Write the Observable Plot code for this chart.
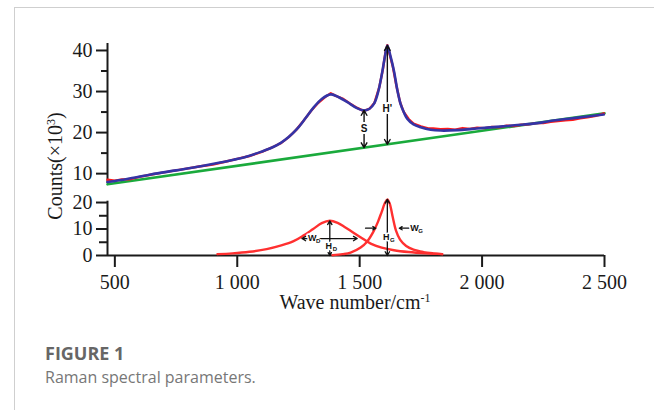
<!DOCTYPE html>
<html>
<head>
<meta charset="utf-8">
<script src="https://cdn.jsdelivr.net/npm/d3@7"></script>
<script src="https://cdn.jsdelivr.net/npm/@observablehq/plot@0.6"></script>
<style>
  body { margin: 0; background: #fff; }
  #wrap { position: relative; width: 654px; height: 410px; overflow: hidden; background: #fff; }
  .card { position: absolute; left: 14px; top: 7px; width: 660px; height: 420px; border-top: 1px solid #cfcfcf; border-left: 1px solid #cfcfcf; }
  #top, #bot { position: absolute; left: 0; }
  #top { top: 0; }
  #bot { top: 190px; }
  .ylab { position: absolute; left: 55px; top: 166px; transform: translate(-50%, -50%) rotate(-90deg); white-space: nowrap;
          font-family: "Liberation Serif", serif; font-size: 20px; color: #1a1a1a; line-height: 1; }
  .xlab { position: absolute; left: 355px; top: 292px; transform: translateX(-50%); white-space: nowrap;
          font-family: "Liberation Serif", serif; font-size: 20px; color: #1a1a1a; line-height: 1; }
  sup { font-size: 0.6em; vertical-align: 0.55em; line-height: 0; }
  .fig { position: absolute; left: 45px; top: 344px; font-family: "Open Sans", sans-serif; font-weight: 700; font-size: 18px; line-height: 18px; color: #666; }
  .cap { position: absolute; left: 45px; top: 369px; font-family: "Open Sans", sans-serif; font-size: 16px; line-height: 16px; color: #777; }
</style>
</head>
<body>
<div id="wrap">
  <div class="card"></div>
  <div id="top"></div>
  <div id="bot"></div>
  <div class="ylab">Counts(×10<sup>3</sup>)</div>
  <div class="xlab">Wave number/cm<sup>-1</sup></div>
  <div class="fig">FIGURE 1</div>
  <div class="cap">Raman spectral parameters.</div>
</div>
<script>
// ---------- data ----------
const xTicks = [500, 1000, 1500, 2000, 2500];
const xTickLabels = ["500", "1 000", "1 500", "2 000", "2 500"];
const upperYTicks = [10, 20, 30, 40];
const upperYMinor = [15, 25, 35];
const lowerYTicks = [0, 10, 20];
const lowerYMinor = [5, 15];

// raw spectrum (red)
const rawSpectrum = [
  [470,8.5],[500,8.3],[530,8.6],[560,8.6],[600,9.2],[650,9.8],[700,10.3],[750,10.8],[800,11.3],[850,11.8],
  [900,12.2],[950,12.9],[1000,13.6],[1050,14.3],[1100,15.3],[1150,16.6],[1180,17.5],[1210,18.9],[1240,20.6],
  [1270,22.8],[1300,25.2],[1330,27.2],[1360,28.7],[1382,29.6],[1400,29.0],[1430,28.3],[1460,27.1],[1490,26.0],
  [1516,25.3],[1540,25.8],[1560,27.2],[1580,31.0],[1595,35.5],[1605,39.4],[1613,41.3],[1622,39.2],[1635,36.2],
  [1650,31.4],[1665,27.4],[1680,25.0],[1700,23.3],[1720,22.2],[1750,21.5],[1780,21.0],[1800,21.0],[1830,20.8],
  [1860,20.9],[1890,20.7],[1920,21.1],[1950,20.9],[1980,21.2],[2010,21.1],[2040,21.4],[2070,21.3],[2100,21.7],
  [2130,21.6],[2160,21.9],[2190,22.0],[2220,22.3],[2250,22.3],[2280,22.6],[2310,22.8],[2340,23.0],[2370,23.1],
  [2400,23.5],[2430,23.7],[2460,24.0],[2480,24.3],[2497,24.7]
];
// fitted spectrum (blue)
const fitSpectrum = [
  [470,7.95],[550,8.7],[647,9.8],[750,10.8],[851,11.8],[930,12.7],[986,13.4],[1040,14.2],[1096,15.3],[1140,16.3],
  [1178,17.5],[1210,18.9],[1246,21.0],[1280,23.6],[1313,26.2],[1345,28.2],[1382,29.3],[1415,28.6],[1450,27.4],
  [1485,26.1],[1516,25.4],[1540,25.8],[1560,27.2],[1575,29.8],[1590,34.0],[1603,38.5],[1613,41.2],[1625,38.8],
  [1640,35.0],[1655,30.0],[1667,27.0],[1680,25.0],[1694,23.4],[1720,22.0],[1749,21.3],[1790,20.7],[1831,20.5],
  [1900,20.6],[1960,20.9],[2021,21.2],[2100,21.6],[2160,21.9],[2225,22.3],[2300,23.0],[2400,23.7],[2497,24.4]
];
// baseline (green)
const baseline = [[470,7.4],[2500,24.7]];

// deconvoluted bands (lower panel)
const bandD = [
  [919,0.5],[980,0.8],[1050,1.4],[1120,2.4],[1180,3.8],[1230,5.4],[1270,7.5],[1310,10.0],[1345,12.2],[1378,13.1],
  [1410,12.3],[1440,10.7],[1470,8.9],[1505,6.8],[1545,4.5],[1590,3.0],[1640,2.0],[1700,1.3],[1770,0.8],[1837,0.5]
];
const bandG = [
  [1389,0.1],[1430,0.5],[1463,1.1],[1504,3.0],[1530,5.2],[1555,8.8],[1575,12.8],[1590,16.5],[1603,19.8],[1613,21.2],
  [1623,19.5],[1635,14.5],[1648,9.5],[1665,6.0],[1690,3.6],[1720,2.2],[1760,1.3],[1800,0.8],[1837,0.5]
];

// annotations: arrows drawn from a label point outward
const upperArrows = [
  {x1:1518, y1:21.0, x2:1518, y2:25.4}, {x1:1518, y1:21.0, x2:1518, y2:16.33},
  {x1:1613, y1:25.8, x2:1613, y2:41.2}, {x1:1613, y1:25.8, x2:1613, y2:17.14}
];
const upperLabels = [{x:1518, y:21.0, text:"S"}, {x:1613, y:25.8, text:"H'"}];

const lowerArrows = [
  {x1:1378, y1:3.7, x2:1378, y2:13.1}, {x1:1378, y1:3.7, x2:1378, y2:0},
  {x1:1378, y1:6.4, x2:1264, y2:6.4}, {x1:1378, y1:6.4, x2:1490, y2:6.4},
  {x1:1613, y1:6.8, x2:1613, y2:21.2}, {x1:1613, y1:6.8, x2:1613, y2:0},
  {x1:1524, y1:10.3, x2:1566, y2:10.3}, {x1:1701, y1:10.3, x2:1662, y2:10.3}
];
const lowerLabels = [
  {x:1306, y:6.4, main:"W", sub:"D"},
  {x:1374, y:3.7, main:"H", sub:"D"},
  {x:1609, y:6.8, main:"H", sub:"G"},
  {x:1724, y:10.3, main:"W", sub:"G"}
];

// ---------- chart ----------
const serif = "Liberation Serif, Times New Roman, serif";
const sans = "Liberation Sans, Arial, sans-serif";
const ink = "#1a1a1a";

const upper = Plot.plot({
  width: 654, height: 190,
  marginLeft: 107, marginRight: 50, marginTop: 43, marginBottom: 7,
  x: {domain: [470, 2500], axis: null},
  y: {domain: [7.6, 41.7]},
  style: {background: "transparent", overflow: "visible", fontFamily: serif, fontSize: "20px", color: ink},
  marks: [
    Plot.ruleX([470], {y1: 7.6, y2: 41.7, stroke: ink, strokeWidth: 2}),
    Plot.axisY({ticks: upperYTicks, tickSize: 11, tickPadding: 4, strokeWidth: 2, label: null}),
    Plot.axisY({ticks: upperYMinor, tickSize: 6, strokeWidth: 2, tickFormat: () => "", label: null}),
    Plot.line(baseline, {x: d => d[0], y: d => d[1], stroke: "#1aaa3c", strokeWidth: 2.6}),
    Plot.line(rawSpectrum, {x: d => d[0], y: d => d[1], stroke: "#ff1a1a", strokeWidth: 2.4}),
    Plot.line(fitSpectrum, {x: d => d[0], y: d => d[1], stroke: "#3434a6", strokeWidth: 2.6, curve: "catmull-rom"}),
    Plot.arrow(upperArrows, {x1: "x1", y1: "y1", x2: "x2", y2: "y2", stroke: "#111", strokeWidth: 1.4, headLength: 6}),
    Plot.text(upperLabels, {x: "x", y: "y", text: "text", fill: "#111", stroke: "white", strokeWidth: 4,
      fontFamily: sans, fontWeight: "bold", fontSize: 10})
  ]
});
document.getElementById("top").appendChild(upper);

const lower = Plot.plot({
  width: 654, height: 125,
  marginLeft: 107, marginRight: 50, marginTop: 10.7, marginBottom: 60,
  x: {domain: [470, 2500]},
  y: {domain: [0, 20.5]},
  style: {background: "transparent", overflow: "visible", fontFamily: serif, fontSize: "20px", color: ink},
  marks: [
    Plot.ruleX([470], {y1: 0, y2: 20.5, stroke: ink, strokeWidth: 2}),
    Plot.ruleY([0], {x1: 470, x2: 2500, stroke: ink, strokeWidth: 2}),
    Plot.axisY({ticks: lowerYTicks, tickSize: 11, tickPadding: 4, strokeWidth: 2, label: null}),
    Plot.axisY({ticks: lowerYMinor, tickSize: 8, strokeWidth: 2, tickFormat: () => "", label: null}),
    Plot.axisX({ticks: xTicks, tickSize: 12, tickPadding: 7, strokeWidth: 2, label: null,
      tickFormat: d => xTickLabels[xTicks.indexOf(d)]}),
    Plot.line(bandD, {x: d => d[0], y: d => d[1], stroke: "#ff3030", strokeWidth: 2.4, curve: "catmull-rom"}),
    Plot.line(bandG, {x: d => d[0], y: d => d[1], stroke: "#ff3030", strokeWidth: 2.4, curve: "catmull-rom"}),
    Plot.arrow(lowerArrows, {x1: "x1", y1: "y1", x2: "x2", y2: "y2", stroke: "#111", strokeWidth: 1.3, headLength: 5}),
    Plot.text(lowerLabels, {x: "x", y: "y", text: "main", fill: "#111", stroke: "white", strokeWidth: 3,
      fontFamily: sans, fontWeight: "bold", fontSize: 9}),
    Plot.text(lowerLabels, {x: "x", y: "y", text: "sub", dx: 6, dy: 3, fill: "#111", stroke: "white", strokeWidth: 2,
      fontFamily: sans, fontWeight: "bold", fontSize: 6})
  ]
});
document.getElementById("bot").appendChild(lower);
</script>
</body>
</html>
